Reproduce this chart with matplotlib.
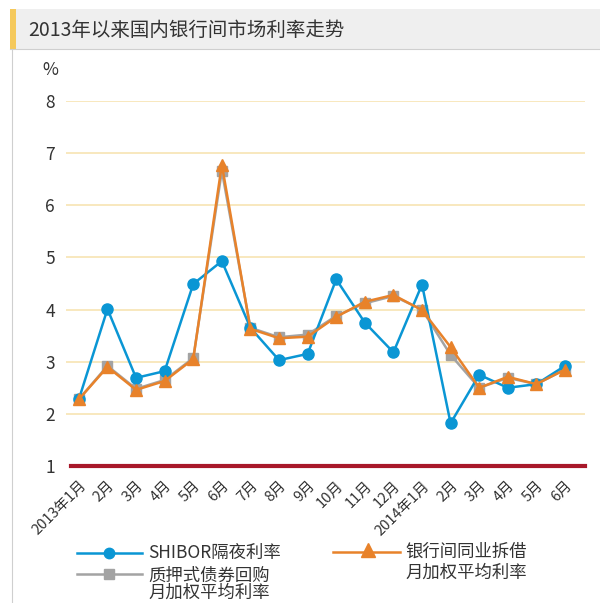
import matplotlib.pyplot as plt
import matplotlib.transforms as mtransforms
import numpy as np
from matplotlib.patches import Rectangle
from matplotlib.lines import Line2D

plt.rcParams['font.family'] = ['Noto Sans CJK SC', 'DejaVu Sans']

months = ['2013年1月', '2月', '3月', '4月', '5月', '6月', '7月', '8月', '9月',
          '10月', '11月', '12月', '2014年1月', '2月', '3月', '4月', '5月', '6月']
shibor = [2.28, 4.01, 2.69, 2.82, 4.49, 4.93, 3.65, 3.03, 3.15,
          4.58, 3.75, 3.18, 4.48, 1.82, 2.75, 2.50, 2.57, 2.92]
interbank = [2.28, 2.90, 2.46, 2.63, 3.05, 6.78, 3.63, 3.45, 3.48,
             3.86, 4.15, 4.28, 3.99, 3.28, 2.50, 2.71, 2.57, 2.85]
repo = [2.28, 2.92, 2.48, 2.65, 3.07, 6.66, 3.65, 3.47, 3.52,
        3.88, 4.12, 4.26, 4.00, 3.13, 2.50, 2.69, 2.57, 2.85]
yticks = [1, 2, 3, 4, 5, 6, 7, 8]

blue = '#0a96d4'
orange = '#e8822a'
gray = '#a3a3a3'
txt = '#333333'

fig = plt.figure(figsize=(6, 6.03), dpi=100)
W, H = 600, 603

# full-figure overlay in pixel coords for header, frame and legend
bg = fig.add_axes([0, 0, 1, 1])
bg.set_xlim(0, W)
bg.set_ylim(H, 0)
bg.axis('off')
bg.add_patch(Rectangle((10, 9), W - 10, 40, color='#efefef', lw=0))
bg.add_patch(Rectangle((10, 9), 6, 40, color='#f5c95c', lw=0))
bg.plot([10, W], [49, 49], color='#cfcfcf', lw=0.8)
bg.plot([12, 12], [49, H], color='#cfcfcf', lw=0.8)
bg.text(28, 30, '2013年以来国内银行间市场利率走势', fontsize=14, color=txt, va='center')
bg.text(50, 70, '%', fontsize=12.5, color=txt, ha='center', va='center')

# legend
lfs = 12.5
bg.add_line(Line2D([77, 142], [553, 553], color=blue, lw=1.8))
bg.plot([109], [553], 'o', color=blue, ms=7.5)
bg.text(148, 553, 'SHIBOR隔夜利率', fontsize=lfs, color=txt, va='center')
bg.add_line(Line2D([333, 400], [552, 552], color=orange, lw=1.8))
bg.plot([368], [550], '^', color=orange, ms=10)
bg.text(405, 552, '银行间同业拆借', fontsize=lfs, color=txt, va='center')
bg.text(405, 573, '月加权平均利率', fontsize=lfs, color=txt, va='center')
bg.add_line(Line2D([77, 142], [574, 574], color=gray, lw=1.8))
bg.plot([109], [574], 's', color=gray, ms=7.5)
bg.text(148, 576, '质押式债券回购', fontsize=lfs, color=txt, va='center')
bg.text(148, 593, '月加权平均利率', fontsize=lfs, color=txt, va='center')

ax = fig.add_axes([66 / W, 1 - 466 / H, (585 - 66) / W, (466 - 101) / H])
ax.patch.set_alpha(0)
x = np.arange(len(months))

ax.plot(x, repo, color=gray, lw=1.8, marker='s', ms=7, zorder=3, clip_on=False)
ax.plot(x, shibor, color=blue, lw=1.8, marker='o', ms=8, zorder=4, clip_on=False)
ax.plot(x, interbank, color=orange, lw=1.8, marker='^', ms=9, zorder=5, clip_on=False)

for v in yticks[1:]:
    ax.axhline(v, color='#f7e4b3', lw=1.2, zorder=1)
ax.axhline(1, xmin=0.01, color='#a8182a', lw=3, zorder=2, clip_on=False)

ax.set_xlim(-0.45, 17.7)
ax.set_ylim(1, 8)
ax.set_yticks(yticks)
ax.set_yticklabels([str(v) for v in yticks], fontsize=12.5, color=txt)
ax.set_xticks(x)
ax.set_xticklabels(months, rotation=45, ha='right', rotation_mode='anchor',
                   fontsize=10.5, color=txt)
shift = mtransforms.ScaledTranslation(0.11, 0, fig.dpi_scale_trans)
for lab in ax.get_xticklabels():
    lab.set_transform(lab.get_transform() + shift)
ax.tick_params(length=0)
ax.tick_params(axis='y', pad=8)
ax.tick_params(axis='x', pad=9)
for s in ax.spines.values():
    s.set_visible(False)

fig.savefig('out.png', dpi=100)
